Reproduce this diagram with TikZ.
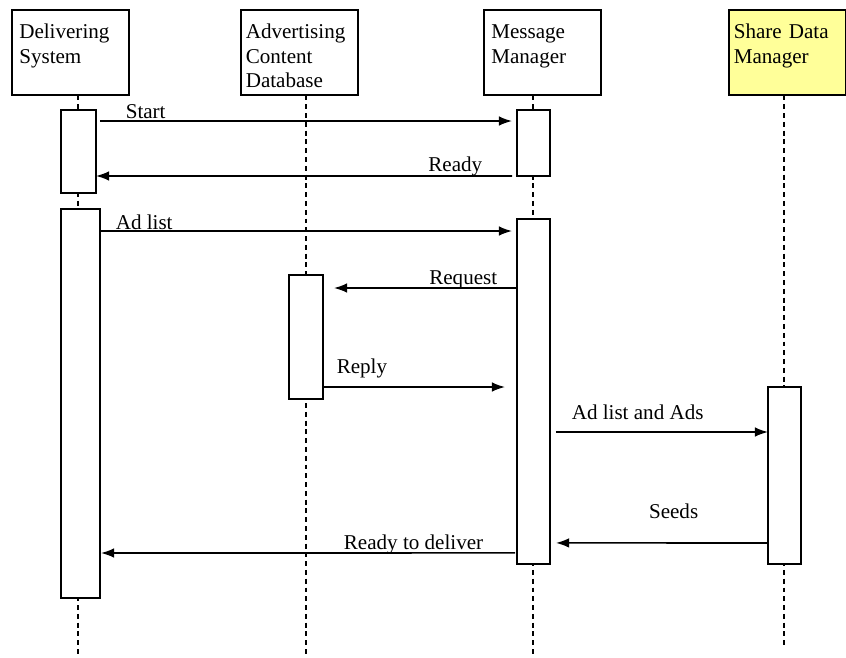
\documentclass[tikz,border=0pt]{standalone}
\usepackage{fontspec}
\setmainfont{Liberation Serif}
\usepackage{xcolor}
\usetikzlibrary{positioning,calc,arrows.meta}

\definecolor{headyellow}{RGB}{255,255,153}

\tikzset{
  head/.style={draw, line width=0.9pt, anchor=north west, align=left,
    text width=2.14cm, inner xsep=0.1cm, inner ysep=0.2cm,
    text height=0.38cm, text depth=0.92cm, minimum width=2.34cm},
  act/.style={draw, fill=white, line width=0.9pt, inner sep=0pt,
    outer sep=0pt, anchor=north west},
  lifeline/.style={line width=0.8pt, dash pattern=on 2.8pt off 2.2pt},
  msg/.style={->, line width=0.9pt},
  lbl/.style={inner sep=0pt}
}

\begin{document}
\begin{tikzpicture}[x=0.02cm,y=-0.02cm,>={Latex[length=7.5pt,width=5.5pt]},
  font=\fontsize{12}{13.8}\selectfont]
                \useasboundingbox (0,0) rectangle (846,657);
                % heads
                \node[head] (ds) at (11,9) {\hspace{0.05cm}Delivering\\\hspace{0.05cm}System};
                \node[head] (acd) at (240,9) {Advertising\\Content\\Database};
                \node[head] (mm) at (483,9) {\hspace{0.05cm}Message\\\hspace{0.05cm}Manager};
                \node[head, fill=headyellow] (sdm) at (728,9) {Share Data\\Manager};
                % lifelines
                \coordinate (dsl) at (78,655);
                \coordinate (acdl) at (306,655);
                \coordinate (mml) at (533,655);
                \coordinate (sdml) at (784,648);
                \draw[lifeline] (ds.south -| dsl) -- (dsl);
                \draw[lifeline] (acd.south -| acdl) -- (acdl);
                \draw[lifeline] (mm.south -| mml) -- (mml);
                \draw[lifeline] (sdm.south -| sdml) -- (sdml);
                % activation boxes
                \node[act, minimum width=0.7cm, minimum height=1.66cm] (ds1) at (61,110) {};
                \node[act, minimum width=0.78cm, minimum height=7.78cm] (ds2) at (61,209) {};
                \node[act, minimum width=0.66cm, minimum height=1.32cm] (mm1) at (517,110) {};
                \node[act, minimum width=0.66cm, minimum height=6.9cm] (mm2) at (517,219) {};
                \node[act, minimum width=0.68cm, minimum height=2.48cm] (acd1) at (289,275) {};
                \node[act, minimum width=0.66cm, minimum height=3.54cm] (sdm1) at (768,387) {};
                % messages
                \draw[msg] ($(ds1.north east)+(4,11)$) --
                  node[lbl, at start, anchor=base west, xshift=0.5cm, yshift=0.06cm] {Start}
                  ($(mm1.north west)+(-5,11)$);
                \draw[msg] ($(mm1.south west)+(-5,0)$) --
                  node[lbl, at start, anchor=base east, xshift=-0.58cm, yshift=0.08cm] {Ready}
                  ($(ds1.south east)+(0,-17)$);
                \draw[msg] ($(ds2.north east)+(0,22)$) --
                  node[lbl, at start, anchor=base west, xshift=0.3cm, yshift=0.04cm] {Ad list}
                  ($(mm2.north west)+(-5,12)$);
                \draw[msg] ($(mm2.north west)+(0,69)$) --
                  node[lbl, at start, anchor=base east, xshift=-0.38cm, yshift=0.08cm] {Request}
                  ($(acd1.north east)+(11,13)$);
                \draw[msg] ($(acd1.north east)+(0,112)$) --
                  node[lbl, at start, anchor=base west, xshift=0.26cm, yshift=0.28cm] {Reply}
                  ($(mm2.north west)+(-12,168)$);
                \draw[msg] ($(mm2.north east)+(6,213)$) --
                  node[lbl, at start, anchor=base west, xshift=0.3cm, yshift=0.26cm] {Ad list and Ads}
                  ($(sdm1.north west)+(0,45)$);
                \draw[msg] ($(sdm1.south west)+(0,-21)$) --
                  node[lbl, at start, anchor=base east, xshift=-1.38cm, yshift=0.48cm] {Seeds}
                  ($(mm2.south east)+(6,-21)$);
                \draw[msg] ($(mm2.south west)+(-2,-11)$) --
                  node[lbl, at start, anchor=base east, xshift=-0.62cm, yshift=0.06cm] {Ready to deliver}
                  ($(ds2.north east)+(1,344)$);
            \end{tikzpicture}
\end{document}
